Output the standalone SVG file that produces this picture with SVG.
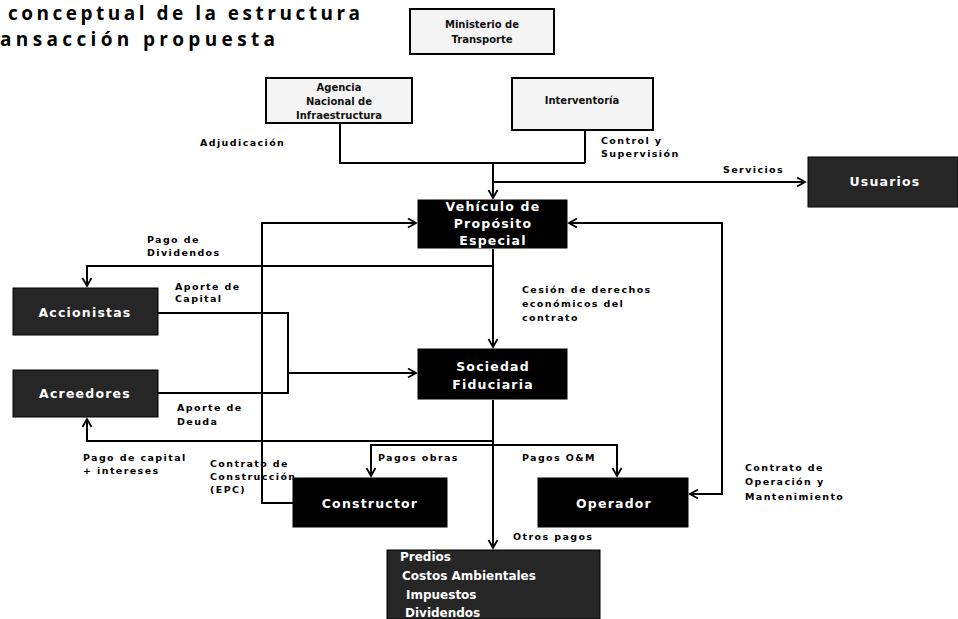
<svg xmlns="http://www.w3.org/2000/svg" width="958" height="619" viewBox="0 0 958 619">
<style>
.title{font-family:"Open Sans","Liberation Sans",sans-serif;font-weight:bold;font-size:19px;fill:#000}
.lbl{font-family:"DejaVu Sans","Liberation Sans",sans-serif;font-weight:bold;font-size:9.5px;letter-spacing:1.4px;fill:#000}
.dark{fill:#000;stroke:#000;stroke-width:1}
.noisy{fill:#262626;stroke:#000;stroke-width:1}
.light{fill:#f4f4f4;stroke:#000;stroke-width:2}
.wt{font-family:"DejaVu Sans","Liberation Sans",sans-serif;font-weight:bold;font-size:12.5px;letter-spacing:1.2px;fill:#fff;text-anchor:middle}
.bt{font-family:"DejaVu Sans","Liberation Sans",sans-serif;font-weight:bold;font-size:10px;fill:#111;text-anchor:middle}
.wl{font-family:"DejaVu Sans","Liberation Sans",sans-serif;font-weight:bold;font-size:12px;fill:#fff}
.ln{fill:none;stroke:#000;stroke-width:2}
</style>
<defs>
<marker id="ah" markerWidth="12" markerHeight="12" refX="9" refY="5" orient="auto" markerUnits="userSpaceOnUse">
<path d="M1,0.5 L9,5 L1,9.5" fill="none" stroke="#000" stroke-width="1.8"/>
</marker>
</defs>
<rect width="958" height="619" fill="#fff"/>
<text class="title" x="8" y="20" textLength="352" lengthAdjust="spacing">conceptual de la estructura</text>
<text class="title" x="0" y="46" textLength="275" lengthAdjust="spacing">ansacción propuesta</text>

<g id="connectors">
<polyline class="ln" points="340,124 340,163 585,163"/>
<line class="ln" x1="585" y1="131" x2="585" y2="163"/>
<line class="ln" x1="493" y1="163" x2="493" y2="198" marker-end="url(#ah)"/>
<line class="ln" x1="493" y1="182" x2="805" y2="182" marker-end="url(#ah)"/>
<line class="ln" x1="493" y1="249" x2="493" y2="347" marker-end="url(#ah)"/>
<polyline class="ln" points="493,266 87,266 87,286" marker-end="url(#ah)"/>
<polyline class="ln" points="158,313 288,313 288,393 158,393"/>
<line class="ln" x1="288" y1="373" x2="416" y2="373" marker-end="url(#ah)"/>
<polyline class="ln" points="493,441 87,441 87,419" marker-end="url(#ah)"/>
<line class="ln" x1="493" y1="400" x2="493" y2="548" marker-end="url(#ah)"/>
<polyline class="ln" points="371,476 371,445 617,445 617,476" marker-end="url(#ah)"/>
<line class="ln" x1="371" y1="450" x2="371" y2="476" marker-end="url(#ah)"/>
<polyline class="ln" points="293,503 262,503 262,223 416,223" marker-end="url(#ah)"/>
<polyline class="ln" points="722,223 569,223" marker-end="url(#ah)"/>
<polyline class="ln" points="722,222 722,494 690,494" marker-end="url(#ah)"/>
</g>

<g id="ministerio">
<rect class="light" x="410" y="9" width="144" height="45"/>
<text class="bt" x="482" y="28">Ministerio de</text>
<text class="bt" x="482" y="43">Transporte</text>
</g>
<g id="agencia">
<rect class="light" x="266" y="78" width="146" height="45"/>
<text class="bt" x="339" y="91" font-size="9">Agencia</text>
<text class="bt" x="339" y="105">Nacional de</text>
<text class="bt" x="339" y="119" font-size="9">Infraestructura</text>
</g>
<g id="interventoria">
<rect class="light" x="512" y="78" width="141" height="52"/>
<text class="bt" x="582" y="104">Interventoría</text>
</g>
<g id="usuarios">
<rect class="noisy" x="808" y="157" width="150" height="50"/>
<text class="wt" x="885" y="186" font-size="11">Usuarios</text>
</g>
<g id="vehiculo">
<rect class="dark" x="418" y="200" width="149" height="48"/>
<text class="wt" x="493" y="211">Vehículo de</text>
<text class="wt" x="493" y="228">Propósito</text>
<text class="wt" x="493" y="245">Especial</text>
</g>
<g id="accionistas">
<rect class="noisy" x="13" y="288" width="145" height="47"/>
<text class="wt" x="85" y="317">Accionistas</text>
</g>
<g id="acreedores">
<rect class="noisy" x="13" y="370" width="145" height="47"/>
<text class="wt" x="85" y="398">Acreedores</text>
</g>
<g id="sociedad">
<rect class="dark" x="418" y="349" width="149" height="50"/>
<text class="wt" x="493" y="371">Sociedad</text>
<text class="wt" x="493" y="389">Fiduciaria</text>
</g>
<g id="constructor">
<rect class="dark" x="293" y="478" width="154" height="49"/>
<text class="wt" x="370" y="508">Constructor</text>
</g>
<g id="operador">
<rect class="dark" x="538" y="478" width="150" height="49"/>
<text class="wt" x="614" y="508">Operador</text>
</g>
<g id="otros">
<rect class="noisy" x="387" y="550" width="213" height="69"/>
<text class="wl" x="400" y="561">Predios</text>
<text class="wl" x="402" y="580">Costos Ambientales</text>
<text class="wl" x="406" y="599">Impuestos</text>
<text class="wl" x="405" y="617">Dividendos</text>
</g>

<g id="labels">
<text class="lbl" x="200" y="146">Adjudicación</text>
<text class="lbl" x="601" y="144">Control y</text>
<text class="lbl" x="601" y="157">Supervisión</text>
<text class="lbl" x="723" y="173">Servicios</text>
<text class="lbl" x="147" y="243">Pago de</text>
<text class="lbl" x="147" y="256">Dividendos</text>
<text class="lbl" x="175" y="290">Aporte de</text>
<text class="lbl" x="175" y="302">Capital</text>
<text class="lbl" x="522" y="293">Cesión de derechos</text>
<text class="lbl" x="522" y="307">económicos del</text>
<text class="lbl" x="522" y="321">contrato</text>
<text class="lbl" x="177" y="411">Aporte de</text>
<text class="lbl" x="177" y="425">Deuda</text>
<text class="lbl" x="83" y="461">Pago de capital</text>
<text class="lbl" x="83" y="474">+ intereses</text>
<text class="lbl" x="378" y="461">Pagos obras</text>
<text class="lbl" x="522" y="461">Pagos O&amp;M</text>
<text class="lbl" x="210" y="467">Contrato de</text>
<text class="lbl" x="210" y="480">Construcción</text>
<text class="lbl" x="210" y="493">(EPC)</text>
<text class="lbl" x="745" y="471">Contrato de</text>
<text class="lbl" x="745" y="485">Operación y</text>
<text class="lbl" x="745" y="500">Mantenimiento</text>
<text class="lbl" x="513" y="540">Otros pagos</text>
</g>
</svg>
